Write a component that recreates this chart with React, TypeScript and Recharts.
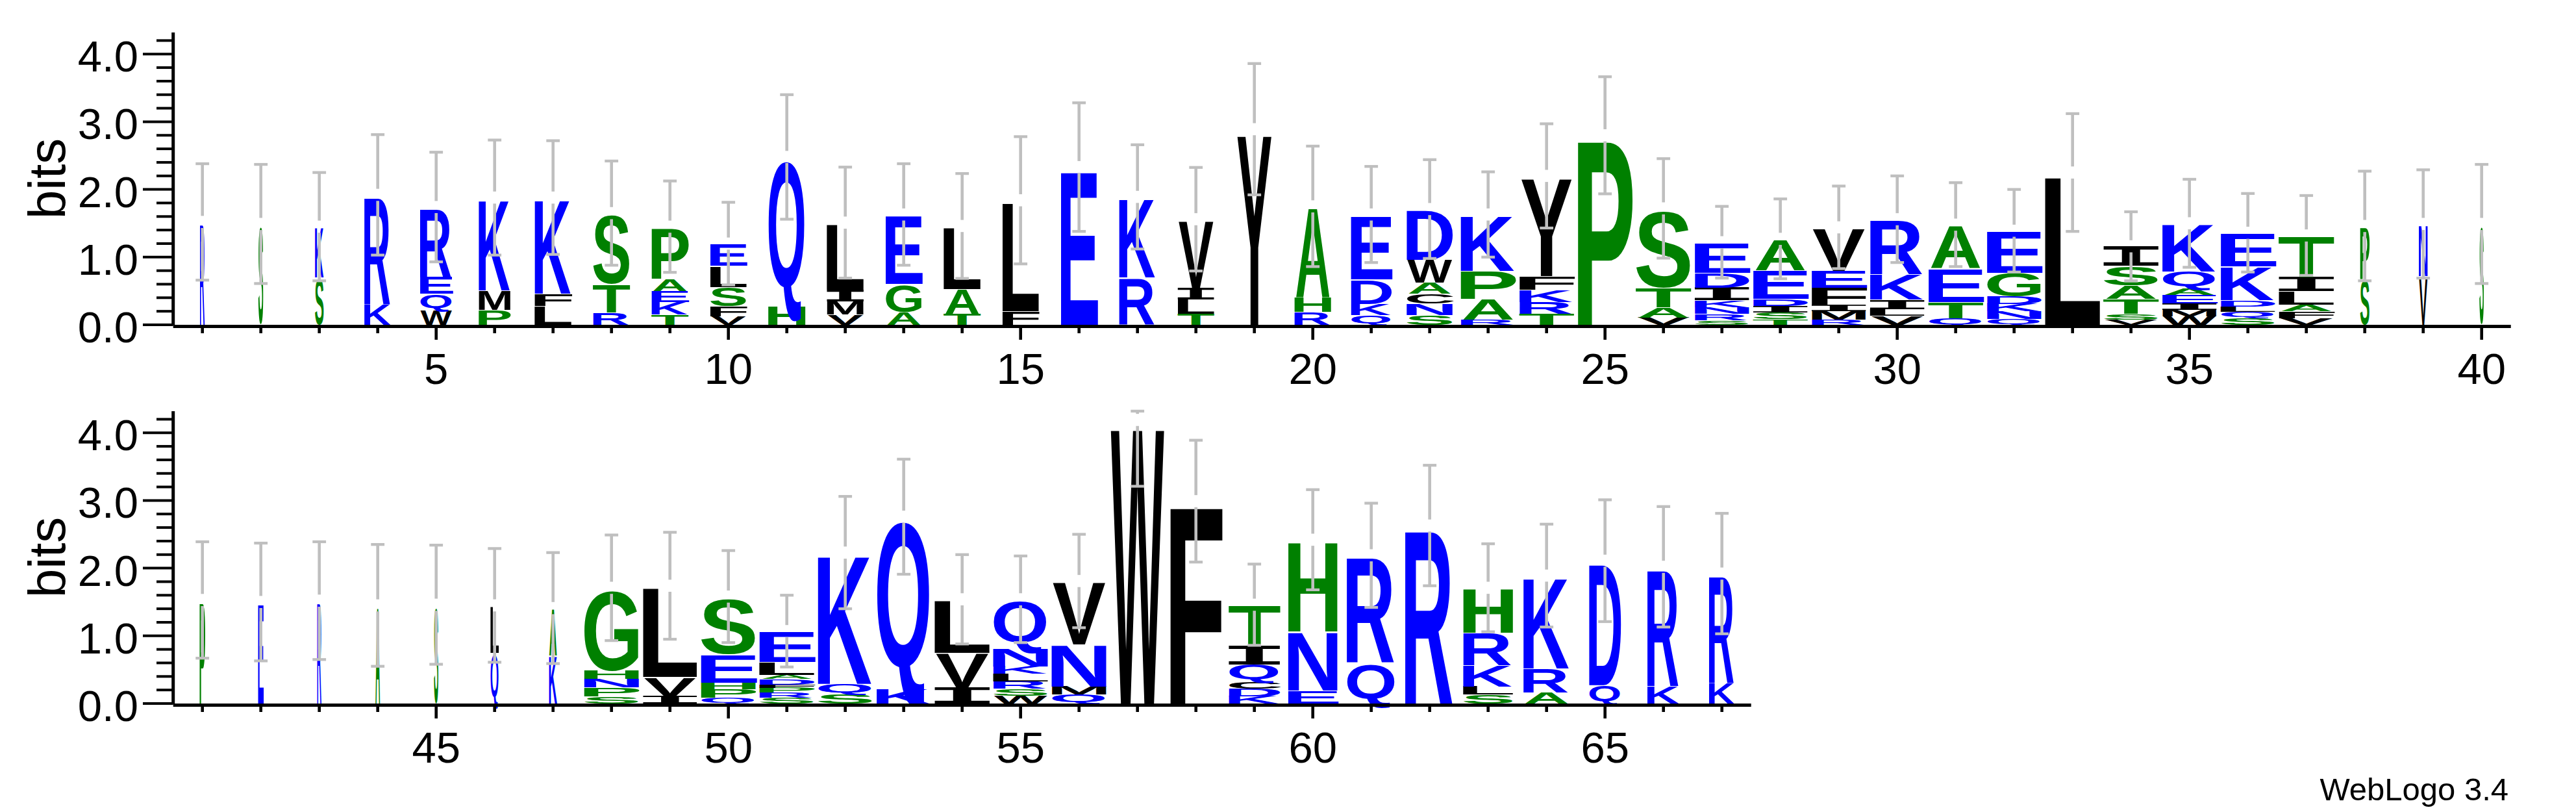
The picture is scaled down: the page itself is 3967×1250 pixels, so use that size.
import React from "react";
import { BarChart, Bar, XAxis, YAxis, ReferenceLine } from "recharts";

// ---------- data ----------
type Stack = [string, number][];

const topPositions: number[] = [
  1, 2, 3, 4, 5, 6, 7, 8, 9, 10, 11, 12, 13, 14, 15, 16, 17, 18, 19, 20,
  21, 22, 23, 24, 25, 26, 27, 28, 29, 30, 31, 32, 33, 34, 35, 36, 37, 38, 39, 40,
];

// letters bottom -> top, heights in bits
const topStacks: Stack[] = [
  [["R", 1.52]],
  [["S", 1.49]],
  [["S", 0.7], ["K", 0.75]],
  [["K", 0.3], ["R", 1.62]],
  [["W", 0.22], ["Q", 0.24], ["E", 0.25], ["R", 1.03]],
  [["P", 0.22], ["M", 0.29], ["K", 1.37]],
  [["L", 0.28], ["F", 0.18], ["K", 1.42]],
  [["R", 0.18], ["T", 0.42], ["S", 1.05]],
  [["T", 0.15], ["K", 0.19], ["E", 0.16], ["A", 0.18], ["P", 0.77]],
  [["V", 0.12], ["F", 0.15], ["S", 0.29], ["L", 0.31], ["E", 0.33]],
  [["H", 0.28], ["Q", 2.2]],
  [["V", 0.15], ["M", 0.2], ["I", 0.17], ["L", 0.99]],
  [["A", 0.19], ["G", 0.41], ["E", 1.03]],
  [["T", 0.16], ["A", 0.37], ["L", 0.93]],
  [["F", 0.2], ["L", 1.64]],
  [["E", 2.33]],
  [["R", 0.7], ["K", 1.19]],
  [["T", 0.16], ["L", 0.21], ["I", 0.17], ["V", 1.02]],
  [["Y", 2.89]],
  [["R", 0.19], ["H", 0.21], ["A", 1.35]],
  [["Q", 0.14], ["K", 0.17], ["D", 0.36], ["E", 0.96]],
  [["S", 0.14], ["N", 0.17], ["C", 0.15], ["A", 0.16], ["W", 0.34], ["D", 0.75]],
  [["R", 0.08], ["A", 0.3], ["P", 0.42], ["K", 0.83]],
  [["T", 0.16], ["R", 0.18], ["K", 0.18], ["F", 0.2], ["Y", 1.48]],
  [["P", 2.8]],
  [["V", 0.11], ["A", 0.15], ["T", 0.29], ["S", 1.17]],
  [["S", 0.07], ["R", 0.09], ["N", 0.1], ["K", 0.1], ["I", 0.19], ["D", 0.22], ["E", 0.45]],
  [["T", 0.08], ["S", 0.1], ["I", 0.1], ["D", 0.1], ["E", 0.43], ["A", 0.46]],
  [["R", 0.08], ["M", 0.12], ["I", 0.1], ["F", 0.25], ["E", 0.25], ["V", 0.64]],
  [["V", 0.13], ["L", 0.1], ["I", 0.14], ["K", 0.38], ["R", 0.81]],
  [["Q", 0.1], ["T", 0.24], ["E", 0.5], ["A", 0.64]],
  [["Q", 0.09], ["N", 0.11], ["K", 0.11], ["D", 0.11], ["G", 0.35], ["E", 0.62]],
  [["L", 2.25]],
  [["V", 0.08], ["S", 0.08], ["T", 0.22], ["A", 0.2], ["S", 0.29], ["I", 0.29]],
  [["W", 0.12], ["M", 0.1], ["I", 0.1], ["E", 0.12], ["A", 0.1], ["Q", 0.25], ["K", 0.71]],
  [["S", 0.1], ["Q", 0.09], ["L", 0.08], ["D", 0.09], ["K", 0.5], ["E", 0.5]],
  [["V", 0.1], ["F", 0.1], ["A", 0.1], ["L", 0.2], ["I", 0.21], ["T", 0.61]],
  [["S", 0.68], ["P", 0.78]],
  [["V", 0.72], ["N", 0.77]],
  [["S", 1.49]],
];

// stack width as fraction of the full letter width
const topWidths: number[] = [
  0.09, 0.09, 0.16, 0.49, 0.59, 0.58, 0.67, 0.67, 0.67, 0.66,
  0.68, 0.67, 0.66, 0.67, 0.66, 0.66, 0.67, 0.66, 0.67, 0.67,
  0.74, 0.84, 1.0, 0.99, 0.99, 1.0, 0.99, 0.99, 0.99, 0.99,
  0.99, 0.99, 1.0, 1.0, 0.99, 0.99, 1.0, 0.17, 0.16, 0.08,
];

// error bar half-length (bits)
const topErrors: number[] = [
  0.86, 0.88, 0.8, 0.89, 0.81, 0.85, 0.84, 0.77, 0.675, 0.61,
  0.92, 0.82, 0.75, 0.775, 0.94, 0.95, 0.77, 0.765, 0.97, 0.89,
  0.71, 0.73, 0.63, 0.77, 0.865, 0.735, 0.53, 0.59, 0.61, 0.64,
  0.62, 0.61, 0.87, 0.51, 0.65, 0.58, 0.59, 0.81, 0.8, 0.88,
];

const bottomPositions: number[] = [
  41, 42, 43, 44, 45, 46, 47, 48, 49, 50, 51, 52, 53, 54, 55, 56, 57, 58, 59, 60,
  61, 62, 63, 64, 65, 66, 67,
];

const bottomStacks: Stack[] = [
  [["P", 1.53]],
  [["E", 1.5]],
  [["R", 1.52]],
  [["A", 1.45]],
  [["S", 1.46]],
  [["Q", 0.75], ["L", 0.7]],
  [["K", 0.71], ["A", 0.7]],
  [["S", 0.11], ["P", 0.13], ["N", 0.12], ["H", 0.12], ["G", 1.23]],
  [["I", 0.11], ["V", 0.28], ["L", 1.35]],
  [["Q", 0.09], ["P", 0.12], ["H", 0.1], ["E", 0.42], ["S", 0.85]],
  [["S", 0.09], ["R", 0.07], ["P", 0.07], ["F", 0.05], ["D", 0.08], ["A", 0.06], ["L", 0.19], ["E", 0.46]],
  [["S", 0.145], ["Q", 0.145], ["K", 1.94]],
  [["K", 0.22], ["Q", 2.54]],
  [["I", 0.23], ["V", 0.52], ["L", 0.79]],
  [["W", 0.11], ["S", 0.11], ["R", 0.11], ["L", 0.11], ["K", 0.11], ["N", 0.27], ["Q", 0.72]],
  [["Q", 0.13], ["M", 0.12], ["N", 0.62], ["V", 0.94]],
  [["W", 4.19]],
  [["F", 2.99]],
  [["K", 0.11], ["D", 0.11], ["C", 0.11], ["Q", 0.25], ["I", 0.27], ["T", 0.61]],
  [["E", 0.19], ["N", 0.88], ["H", 1.35]],
  [["Q", 0.6], ["R", 1.59]],
  [["R", 2.63]],
  [["S", 0.13], ["L", 0.12], ["K", 0.32], ["R", 0.48], ["H", 0.66]],
  [["A", 0.16], ["R", 0.36], ["K", 1.37]],
  [["Q", 0.27], ["D", 1.84]],
  [["K", 0.26], ["R", 1.76]],
  [["K", 0.3], ["R", 1.62]],
];

const bottomWidths: number[] = [
  0.1, 0.1, 0.08, 0.09, 0.08, 0.15, 0.15, 1.0, 0.98, 1.0,
  1.0, 1.0, 0.99, 1.0, 1.0, 1.0, 1.0, 0.93, 0.93, 0.9,
  0.9, 0.9, 0.91, 0.85, 0.58, 0.59, 0.47,
];

const bottomErrors: number[] = [
  0.86, 0.87, 0.87, 0.9, 0.88, 0.84, 0.82, 0.78, 0.79, 0.68,
  0.53, 0.83, 0.85, 0.66, 0.64, 0.69, 0.98, 0.9, 0.6, 0.74,
  0.77, 0.89, 0.65, 0.76, 0.9, 0.89, 0.89,
];

const yTicks: number[] = [
  0, 0.2, 0.4, 0.6, 0.8, 1, 1.2, 1.4, 1.6, 1.8, 2, 2.2, 2.4, 2.6, 2.8, 3,
  3.2, 3.4, 3.6, 3.8, 4, 4.2,
];
const yMajorTicks: number[] = [0, 1, 2, 3, 4];
const yMajorLabels: string[] = ["0.0", "1.0", "2.0", "3.0", "4.0"];

const YMAX = 4.32;
const SLOTS = 8;

// ---------- styling ----------
const BLUE = "#0000ff";
const GREEN = "#008000";
const BLACK = "#000000";
const GREY = "#bfbfbf";
const FONT = "'Liberation Sans', Arial, Helvetica, sans-serif";
const MONO = "'DejaVu Sans Mono', monospace";

const COLORS: Record<string, string> = {
  R: BLUE, K: BLUE, D: BLUE, E: BLUE, N: BLUE, Q: BLUE,
  S: GREEN, G: GREEN, H: GREEN, T: GREEN, A: GREEN, P: GREEN,
  Y: BLACK, V: BLACK, M: BLACK, C: BLACK, L: BLACK, F: BLACK, I: BLACK, W: BLACK,
};

// glyph metrics (em): advance, left bearing, right bearing, ink top, ink bottom
const METRICS: Record<string, [number, number, number, number, number]> = {
  A: [0.722, 0.0, 0.0, 0.716, 0],
  C: [0.722, 0.044, 0.052, 0.728, -0.012],
  D: [0.722, 0.073, 0.051, 0.716, 0],
  E: [0.667, 0.073, 0.059, 0.716, 0],
  F: [0.611, 0.073, 0.053, 0.716, 0],
  G: [0.778, 0.046, 0.062, 0.728, -0.012],
  H: [0.722, 0.073, 0.073, 0.716, 0],
  I: [0.602, 0.09, 0.09, 0.729, 0],
  K: [0.722, 0.074, 0.0, 0.716, 0],
  L: [0.611, 0.074, 0.037, 0.716, 0],
  M: [0.833, 0.071, 0.072, 0.716, 0],
  N: [0.722, 0.074, 0.074, 0.716, 0],
  P: [0.667, 0.073, 0.046, 0.716, 0],
  Q: [0.778, 0.042, 0.028, 0.728, -0.11],
  R: [0.722, 0.073, 0.001, 0.716, 0],
  S: [0.667, 0.034, 0.037, 0.728, -0.012],
  T: [0.611, 0.022, 0.022, 0.716, 0],
  V: [0.667, 0.0, 0.0, 0.716, 0],
  W: [0.944, 0.0, 0.0, 0.716, 0],
  Y: [0.667, 0.0, 0.0, 0.716, 0],
};

const STACK_FRACTION = 82 / 90;

function buildRows(positions: number[], stacks: Stack[], widths: number[], errors: number[]) {
  return positions.map((p, i) => {
    const st = stacks[i];
    const row: any = {
      pos: p,
      frac: widths[i],
      err: errors[i],
      n: st.length,
      total: st.reduce((a, s) => a + s[1], 0),
    };
    for (let k = 0; k < SLOTS; k++) {
      row[`s${k}`] = st[k] ? st[k][1] : 0;
      row[`l${k}`] = st[k] ? st[k][0] : "";
    }
    return row;
  });
}

const topData = buildRows(topPositions, topStacks, topWidths, topErrors);
const bottomData = buildRows(bottomPositions, bottomStacks, bottomWidths, bottomErrors);

function makeLetterShape(slot: number, data: any[]) {
  return (props: any) => {
    const { x, y, width, height, index } = props;
    const payload = props.payload && props.payload.pos !== undefined ? props.payload : data[index];
    if (!payload) return <g />;
    const letter: string = payload[`l${slot}`];
    const value: number = payload[`s${slot}`];
    if (!letter || !value || !(height > 0)) return <g />;
    const m = METRICS[letter];
    const F = 100;
    const inkW = (m[0] - m[1] - m[2]) * F;
    const inkH = (m[3] - m[4]) * F;
    const w = width * STACK_FRACTION * payload.frac;
    const sx = w / inkW;
    const sy = height / inkH;
    const cx = x + width / 2;
    const tx = cx - ((m[1] - m[2]) / 2) * F * sx;
    const ty = y + height + m[4] * F * sy;
    const isTop = slot === payload.n - 1;
    let err: React.ReactNode = null;
    if (isTop) {
      const ppb = height / value;
      const upper = Math.min(payload.total + payload.err, YMAX);
      const lower = payload.total - payload.err;
      const yUp = y - (upper - payload.total) * ppb;
      const yLo = y + (payload.total - lower) * ppb;
      const gap = 9.3;
      const capW = 10.4;
      err = (
        <g>
          <line x1={cx} x2={cx} y1={yUp} y2={y - gap} stroke={GREY} strokeWidth={4.6} />
          <line x1={cx} x2={cx} y1={y + gap} y2={yLo} stroke={GREY} strokeWidth={4.6} />
          <line x1={cx - capW} x2={cx + capW} y1={yUp} y2={yUp} stroke={GREY} strokeWidth={4.3} />
          <line x1={cx - capW} x2={cx + capW} y1={yLo} y2={yLo} stroke={GREY} strokeWidth={4.3} />
        </g>
      );
    }
    return (
      <g>
        <text
          transform={`translate(${tx},${ty}) scale(${sx},${sy})`}
          x={0}
          y={0}
          fontSize={F}
          textAnchor="middle"
          fontFamily={letter === "I" ? MONO : FONT}
          fontWeight="bold"
          fill={COLORS[letter]}
        >
          {letter}
        </text>
        {err}
      </g>
    );
  };
}

const XTick = (props: any) => {
  const { x, y, payload } = props;
  const v = Number(payload.value);
  const major = v % 5 === 0;
  return (
    <g>
      <line x1={x} x2={x} y1={y + 4} y2={y + (major ? 23 : 13)} stroke={BLACK} strokeWidth={4.6} />
      {major && (
        <text x={x} y={y + 91} textAnchor="middle" fontSize={67} fontFamily={FONT} fill={BLACK}>
          {String(v)}
        </text>
      )}
    </g>
  );
};

const YTick = (props: any) => {
  const { x, y, payload } = props;
  const v = Number(payload.value);
  const mi = yMajorTicks.findIndex((t) => Math.abs(t - v) < 1e-6);
  const major = mi >= 0;
  return (
    <g>
      <line x1={x - (major ? 46.7 : 25.7)} x2={x} y1={y} y2={y} stroke={BLACK} strokeWidth={4} />
      {major && (
        <text x={x - 53.7} y={y + 27} textAnchor="end" fontSize={67} fontFamily={FONT} fill={BLACK}>
          {yMajorLabels[mi]}
        </text>
      )}
    </g>
  );
};

const BitsLabel = (props: any) => {
  const vb = props.viewBox || { x: 0, y: 0, width: 200, height: 450 };
  const cx = vb.x + vb.width - 166.7;
  const cy = vb.y + vb.height / 2;
  return (
    <text
      transform={`translate(${cx},${cy}) rotate(-90)`}
      textAnchor="middle"
      fontSize={80}
      fontFamily={FONT}
      fill={BLACK}
    >
      bits
    </text>
  );
};

const AxisShape = (p: any) => (
  <line x1={p.x1} x2={p.x2} y1={p.y1 + 2.5} y2={p.y2 + 2.5} stroke={BLACK} strokeWidth={5} />
);

function Logo(props: { data: any[]; width: number; height: number; margin: any }) {
  const { data, width, height, margin } = props;
  return (
    <BarChart width={width} height={height} data={data} margin={margin} barCategoryGap={0} barGap={0}>
      <XAxis
        dataKey="pos"
        height={100}
        interval={0}
        tick={XTick}
        tickLine={false}
        axisLine={false}
        tickSize={0}
        tickMargin={0}
      />
      <YAxis
        type="number"
        width={200}
        domain={[0, YMAX]}
        ticks={yTicks}
        interval={0}
        tick={YTick}
        tickLine={false}
        tickSize={0}
        tickMargin={0}
        axisLine={{ stroke: BLACK, strokeWidth: 5 }}
        label={{ content: BitsLabel }}
      />
      <ReferenceLine y={0} stroke={BLACK} strokeWidth={5} shape={AxisShape} />
      {Array.from({ length: SLOTS }, (_, k) => (
        <Bar
          key={k}
          dataKey={`s${k}`}
          stackId="logo"
          fill="none"
          isAnimationActive={false}
          shape={makeLetterShape(k, data)}
        />
      ))}
    </BarChart>
  );
}

export default function App() {
  return (
    <div style={{ position: "relative", width: 3951, height: 1234, background: "#fff" }}>
      <div style={{ position: "absolute", left: 0, top: 0 }}>
        <Logo
          data={topData}
          width={3951}
          height={600}
          margin={{ top: 41.9, right: 92.3, bottom: 8, left: 58.7 }}
        />
      </div>
      <div style={{ position: "absolute", left: 0, top: 570 }}>
        <Logo
          data={bottomData}
          width={2800}
          height={613}
          margin={{ top: 54.9, right: 111.3, bottom: 8, left: 58.7 }}
        />
      </div>
      <svg
        style={{ position: "absolute", left: 0, top: 0, pointerEvents: "none" }}
        width={3951}
        height={1234}
      >
        <text x={3855} y={1224} textAnchor="end" fontSize={49} fontFamily={FONT} fill={BLACK}>
          WebLogo 3.4
        </text>
      </svg>
    </div>
  );
}
